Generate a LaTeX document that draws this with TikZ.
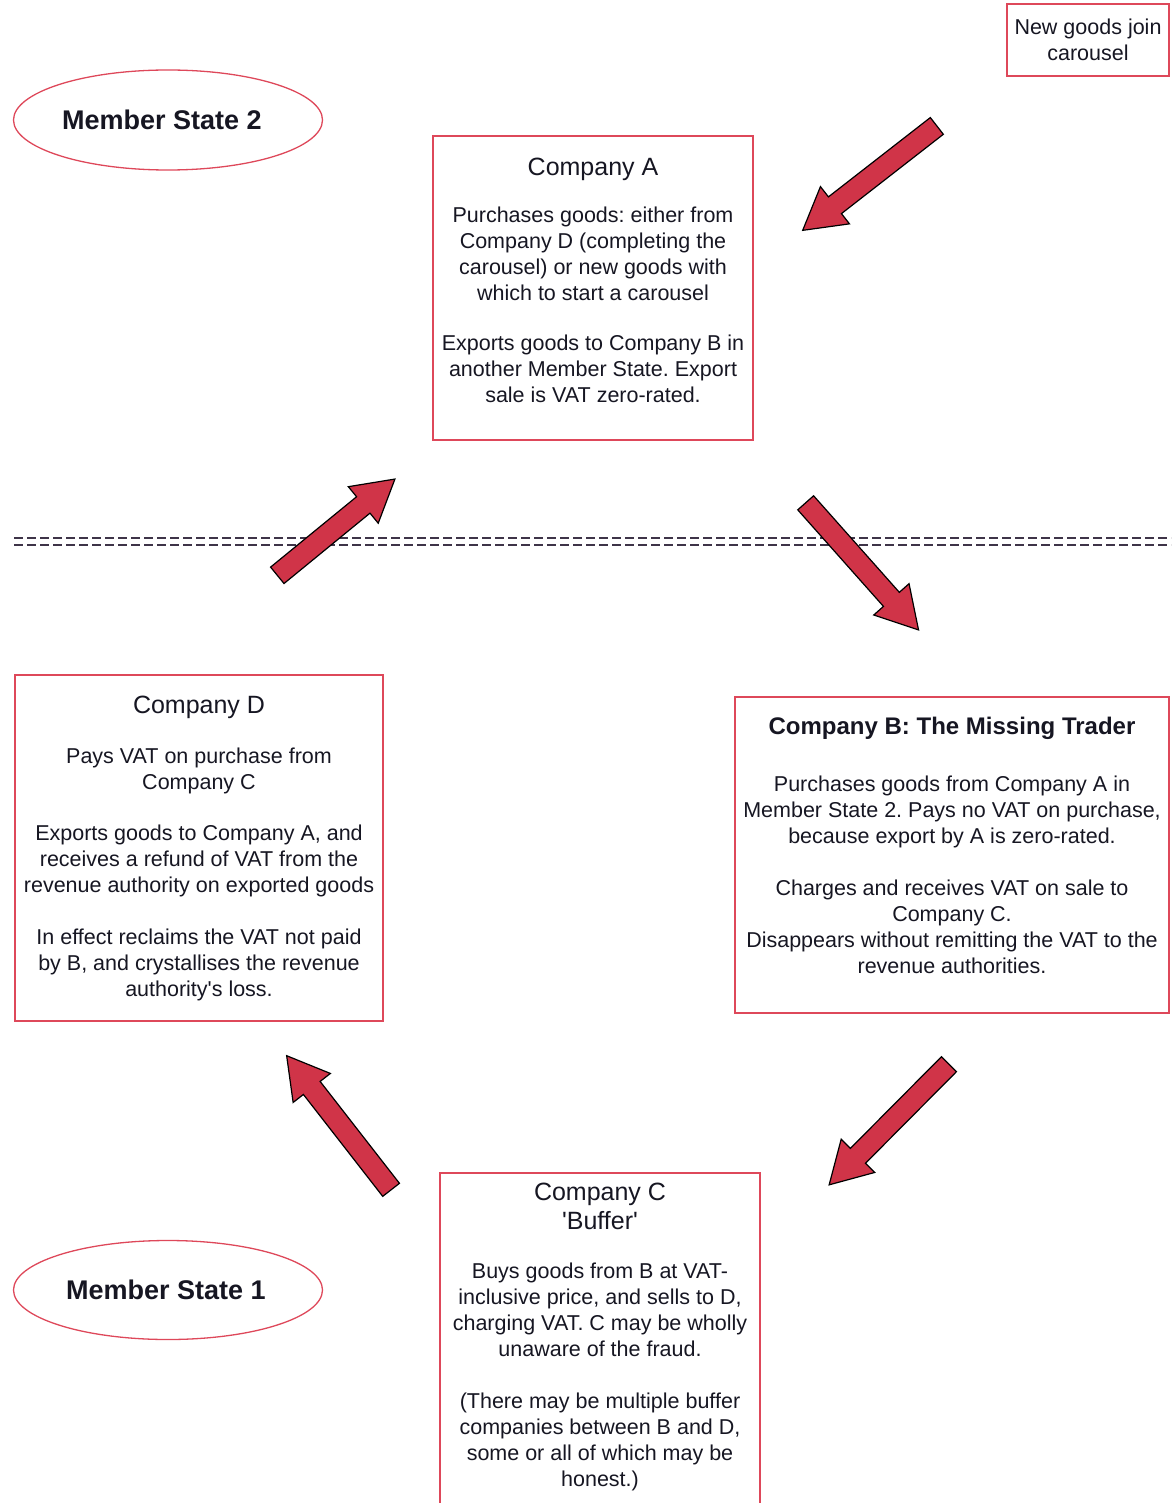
\documentclass[tikz,border=0pt]{standalone}
\usepackage{fontspec}
\setmainfont{Liberation Sans}
\usetikzlibrary{shapes.geometric,shapes.arrows}
\definecolor{boxred}{RGB}{222,72,90}
\definecolor{arrowred}{RGB}{208,52,72}
\definecolor{inkdark}{RGB}{22,22,34}
\definecolor{dashgray}{RGB}{62,52,72}
\newcommand{\titlefont}{\fontsize{25}{30}\selectfont}
\begin{document}
\begin{tikzpicture}[x=1pt,y=-1pt,
  every node/.style={text=inkdark,font=\fontsize{21.5}{26}\selectfont\frenchspacing},
  infobox/.style={draw=boxred,line width=1.8pt,inner sep=0pt},
  boxtext/.style={align=center,inner sep=0pt},
  stateoval/.style={ellipse,draw=boxred,line width=1.3pt,font=\fontsize{27}{30}\selectfont\bfseries},
  bigarrow/.style={single arrow,draw=black,line width=1.2pt,fill=arrowred,inner xsep=0pt,inner ysep=10pt,
    single arrow head extend=13pt,single arrow tip angle=60},
  borderline/.style={dashgray,line width=1.5pt,dash pattern=on 9pt off 4pt}]

\useasboundingbox (0,0) rectangle (1171,1503);

% the two member states
\node[stateoval,minimum width=309pt,minimum height=100pt] (ms2) at (168,120) {Member State 2\kern12pt};
\node[stateoval,minimum width=309pt,minimum height=99pt] (ms1) at (168,1290) {Member State 1\kern4pt};

% border between the states
\coordinate (borderL) at (14,538);
\coordinate (borderR) at (1171,538);
\draw[borderline] (borderL)--(borderR);
\draw[borderline] ([yshift=-7pt]borderL)--([yshift=-7pt]borderR);

\node[infobox,minimum width=162pt,minimum height=72pt] (newgoods) at (1088,40) {};
\node[boxtext] (newgoodstext) at (newgoods.center) {New goods join\\carousel};

\node[infobox,minimum width=320pt,minimum height=304pt] (compA) at (593,288) {};
\node[boxtext] (compAtext) at ([yshift=8pt]compA.center)
  {{\titlefont Company A}\\[21pt]
   Purchases goods: either from\\Company D (completing the\\carousel) or new goods with\\which to start a carousel\\[24pt]
   Exports goods to Company B in\\another Member State. Export\\sale is VAT zero-rated.};

\node[infobox,minimum width=434pt,minimum height=316pt] (compB) at (952,855) {};
\node[boxtext] (compBtext) at ([yshift=10pt]compB.center)
  {{\fontsize{24}{30}\selectfont\bfseries Company B: The Missing Trader}\\[31pt]
   Purchases goods from Company A in\\Member State 2. Pays no VAT on purchase,\\because export by A is zero-rated.\\[26pt]
   Charges and receives VAT on sale to\\Company C.\\Disappears without remitting the VAT to the\\revenue authorities.};

\node[infobox,minimum width=320pt,minimum height=360pt,anchor=north] (compC) at (600,1172) {};
\node[boxtext,anchor=north] (compCtext) at ([yshift=-11pt]compC.north)
  {{\titlefont Company C}\\[3pt]
   {\titlefont \textquotesingle Buffer\textquotesingle}\\[23pt]
   Buys goods from B at VAT-\\inclusive price, and sells to D,\\charging VAT. C may be wholly\\unaware of the fraud.\\[26pt]
   (There may be multiple buffer\\companies between B and D,\\some or all of which may be\\honest.)};

\node[infobox,minimum width=368pt,minimum height=346pt] (compD) at (199,848) {};
\node[boxtext] (compDtext) at (compD.center)
  {{\titlefont Company D}\\[24pt]
   Pays VAT on purchase from\\Company C\\[25pt]
   Exports goods to Company A, and\\receives a refund of VAT from the\\revenue authority on exported goods\\[26pt]
   In effect reclaims the VAT not paid\\by B, and crystallises the revenue\\authority\textquotesingle s loss.};

% flow of the goods
\node[bigarrow,minimum height=170pt,rotate=217.9] (intoA) at (877,172.5) {};
\node[bigarrow,minimum height=152pt,rotate=39.3] (DtoA) at (329,533) {};
\node[bigarrow,minimum height=170pt,rotate=-48.4] (AtoB) at (856,559.5) {};
\node[bigarrow,minimum height=170pt,rotate=225.2] (BtoC) at (895.5,1118) {};
\node[bigarrow,minimum height=170pt,rotate=127.9] (CtoD) at (344.5,1130) {};

\end{tikzpicture}
\end{document}
